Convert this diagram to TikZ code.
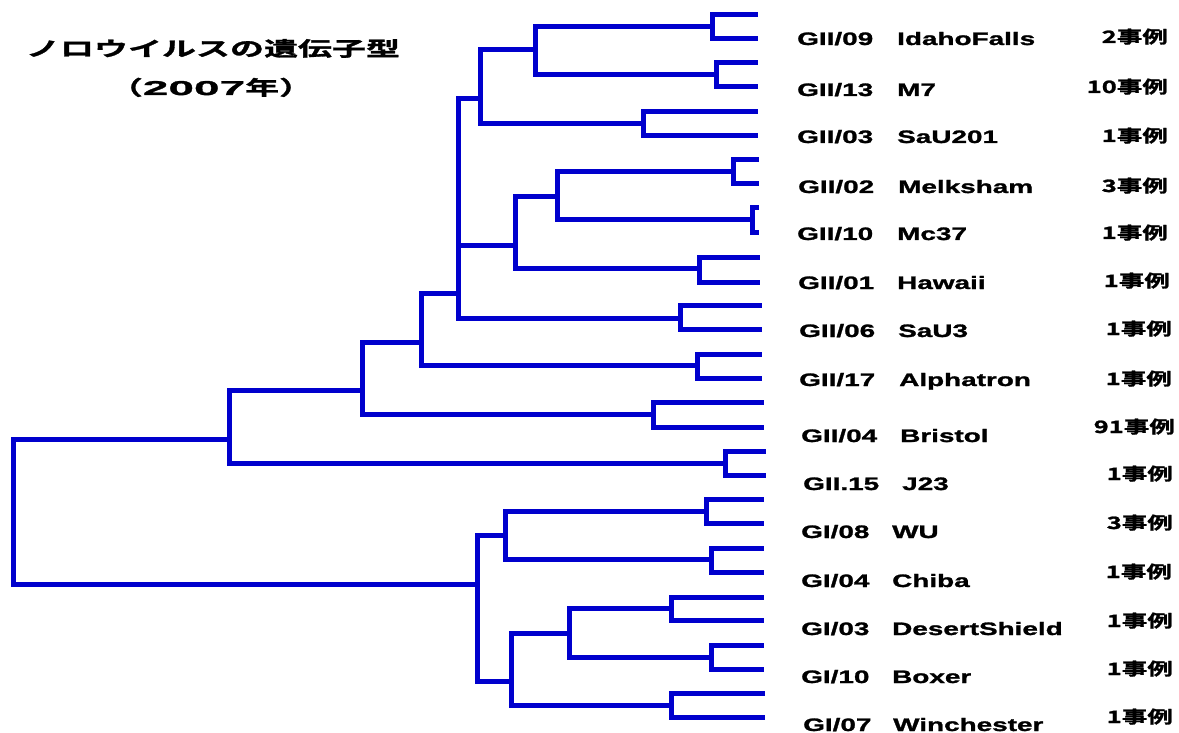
\documentclass[tikz,border=0pt]{standalone}
\usepackage{fontspec}
\newfontfamily\lat[FakeStretch=1.55,FakeBold=1.5]{Liberation Sans Bold}
\newfontfamily\jp[FakeStretch=1.5,FakeBold=1.5]{Noto Sans CJK JP Bold}
\newfontfamily\jpt[FakeStretch=1.7,FakeBold=1.5]{Noto Sans CJK JP Bold}
\newfontfamily\tnum[FakeStretch=2.3,FakeBold=1.5]{Liberation Sans Bold}
\definecolor{treeblue}{RGB}{0,0,205}
\newcommand\lblrow[9]{%
  \node[code] (c#1) at (#2,#4) {#7};
  \node[code] (n#1) at (#3,#4) {#8};
  \node[cnt] (k#1) at (#5,#6) {#9};}
\begin{document}
\begin{tikzpicture}[x=1pt,y=-1pt,
  branch/.style={draw=treeblue,line width=5pt},
  code/.style={anchor=base west,inner sep=0pt,font=\lat\fontsize{18}{18}\selectfont},
  cnt/.style={anchor=base east,inner sep=0pt,font=\jp\fontsize{17}{17}\selectfont},
  ttl/.style={anchor=base,inner sep=0pt,font=\jpt\fontsize{20}{20}\selectfont}]
\useasboundingbox (0,0) rectangle (1179,733);
% leaves
\coordinate (L1a) at (758,15);  \coordinate (L1b) at (758,39);
\coordinate (L2a) at (758,63);  \coordinate (L2b) at (758,87);
\coordinate (L3a) at (758,112); \coordinate (L3b) at (758,136);
\coordinate (L4a) at (759,160); \coordinate (L4b) at (759,184);
\coordinate (L5a) at (759,208); \coordinate (L5b) at (759,232);
\coordinate (L6a) at (760,257); \coordinate (L6b) at (760,282);
\coordinate (L7a) at (762,305); \coordinate (L7b) at (762,329);
\coordinate (L8a) at (762,354); \coordinate (L8b) at (762,378);
\coordinate (L9a) at (764,402); \coordinate (L9b) at (764,427);
\coordinate (L10a) at (766,451); \coordinate (L10b) at (766,475);
\coordinate (L11a) at (764,499); \coordinate (L11b) at (764,523);
\coordinate (L12a) at (764,548); \coordinate (L12b) at (764,572);
\coordinate (L13a) at (764,597); \coordinate (L13b) at (764,620);
\coordinate (L14a) at (764,645); \coordinate (L14b) at (764,669);
\coordinate (L15a) at (765,693); \coordinate (L15b) at (765,717);
% pair joins
\coordinate (p1) at (712,27);
\coordinate (p2) at (716,75);
\coordinate (p3) at (643,124);
\coordinate (p4) at (733,172);
\coordinate (p5) at (752,220);
\coordinate (p6) at (699,268);
\coordinate (p7) at (680,318);
\coordinate (p8) at (697,365);
\coordinate (p9) at (653,414);
\coordinate (p10) at (725,463);
\coordinate (p11) at (706,511);
\coordinate (p12) at (711,559);
\coordinate (p13) at (671,608);
\coordinate (p14) at (711,657);
\coordinate (p15) at (671,705);
% internal nodes
\coordinate (a535) at (535,50);
\coordinate (a480) at (480,99);
\coordinate (a557) at (557,197);
\coordinate (a515) at (515,245);
\coordinate (a458) at (458,293);
\coordinate (a421) at (421,342);
\coordinate (a362) at (362,390);
\coordinate (a229) at (229,439);
\coordinate (a505) at (505,535);
\coordinate (a569) at (569,633);
\coordinate (a511) at (511,681);
\coordinate (a477) at (477,584);
\coordinate (root) at (13,511);
% leaf brackets
\foreach \k in {1,...,15}{
  \draw[branch] (p\k) |- (L\k a);
  \draw[branch] (p\k) |- (L\k b);
}
% inner branches
\draw[branch] (a535) |- (p1);
\draw[branch] (a535) |- (p2);
\draw[branch] (a480) |- (a535);
\draw[branch] (a480) |- (p3);
\draw[branch] (a557) |- (p4);
\draw[branch] (a557) |- (p5);
\draw[branch] (a515) |- (a557);
\draw[branch] (a515) |- (p6);
\draw[branch] (a458) |- (a480);
\draw[branch] (a458) |- (a515);
\draw[branch] (a458) |- (p7);
\draw[branch] (a421) |- (a458);
\draw[branch] (a421) |- (p8);
\draw[branch] (a362) |- (a421);
\draw[branch] (a362) |- (p9);
\draw[branch] (a229) |- (a362);
\draw[branch] (a229) |- (p10);
\draw[branch] (a505) |- (p11);
\draw[branch] (a505) |- (p12);
\draw[branch] (a569) |- (p13);
\draw[branch] (a569) |- (p14);
\draw[branch] (a511) |- (a569);
\draw[branch] (a511) |- (p15);
\draw[branch] (a477) |- (a505);
\draw[branch] (a477) |- (a511);
\draw[branch] (root) |- (a229);
\draw[branch] (root) |- (a477);
% labels
\lblrow{1}{797}{897}{45}{1168}{43}{GII/09}{IdahoFalls}{2事例}
\lblrow{2}{797}{897}{96}{1168}{93}{GII/13}{M7}{10事例}
\lblrow{3}{797}{897}{143}{1168}{142}{GII/03}{SaU201}{1事例}
\lblrow{4}{798}{898}{193}{1168}{192}{GII/02}{Melksham}{3事例}
\lblrow{5}{797}{897}{240}{1168}{239}{GII/10}{Mc37}{1事例}
\lblrow{6}{798}{897}{289}{1170}{287}{GII/01}{Hawaii}{1事例}
\lblrow{7}{799}{898}{337}{1172}{335}{GII/06}{SaU3}{1事例}
\lblrow{8}{799}{899}{386}{1172}{385}{GII/17}{Alphatron}{1事例}
\lblrow{9}{801}{900}{442}{1175}{433}{GII/04}{Bristol}{91事例}
\lblrow{10}{803}{902}{490}{1173}{480}{GII.15}{J23}{1事例}
\lblrow{11}{801}{892}{538}{1173}{529}{GI/08}{WU}{3事例}
\lblrow{12}{801}{892}{587}{1172}{578}{GI/04}{Chiba}{1事例}
\lblrow{13}{801}{892}{635}{1173}{627}{GI/03}{DesertShield}{1事例}
\lblrow{14}{801}{892}{683}{1173}{675}{GI/10}{Boxer}{1事例}
\lblrow{15}{803}{893}{731}{1173}{723}{GI/07}{Winchester}{1事例}
% title
\node[ttl] (title) at (213,56) {ノロウイルスの遺伝子型};
\node[ttl] (year) at (211,95) {（{\tnum 2007}年）};
\end{tikzpicture}
\end{document}
